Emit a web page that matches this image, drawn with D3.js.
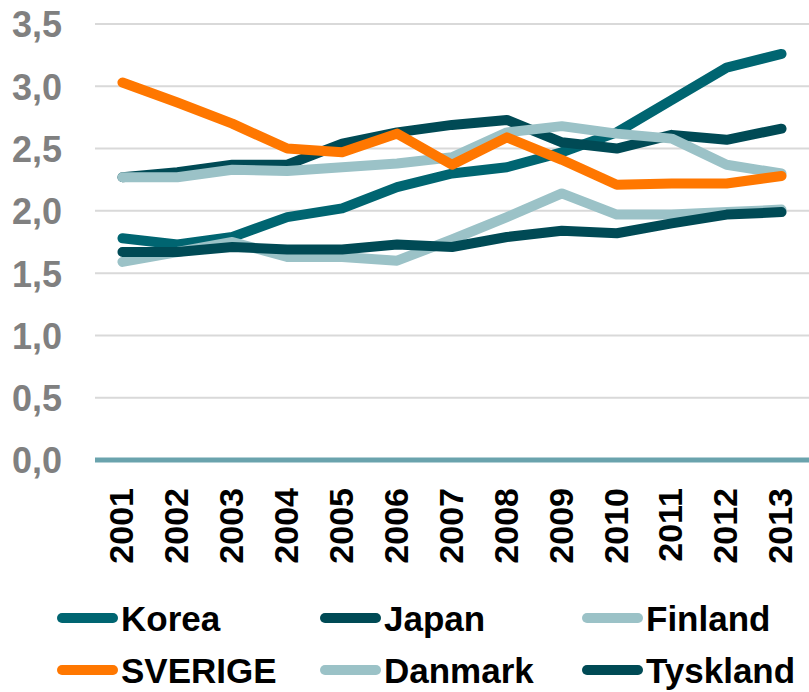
<!DOCTYPE html>
<html><head><meta charset="utf-8">
<script src="https://cdn.jsdelivr.net/npm/d3@7"></script>
<style>
html,body{margin:0;padding:0;background:#fff;}
svg{display:block;}
</style></head>
<body>
<svg id="chart" width="809" height="692"></svg>
<script>
const years = ["2001","2002","2003","2004","2005","2006","2007","2008","2009","2010","2011","2012","2013"];
const yTicks = [0,0.5,1.0,1.5,2.0,2.5,3.0,3.5];
const korea   = [1.78,1.73,1.79,1.95,2.02,2.19,2.30,2.35,2.47,2.63,2.89,3.15,3.26];
const japan   = [2.27,2.31,2.37,2.37,2.54,2.63,2.69,2.73,2.55,2.50,2.61,2.57,2.66];
const finland = [2.27,2.27,2.33,2.32,2.35,2.38,2.43,2.63,2.68,2.62,2.58,2.37,2.30];
const sverige = [3.03,2.87,2.70,2.50,2.47,2.62,2.37,2.59,2.41,2.21,2.22,2.22,2.28];
const danmark = [1.59,1.67,1.75,1.63,1.63,1.60,1.77,1.95,2.14,1.97,1.97,1.99,2.01];
const tyskland= [1.67,1.67,1.71,1.69,1.69,1.73,1.71,1.79,1.84,1.82,1.90,1.97,1.99];
const seriesNames = ["Korea","Japan","Finland","SVERIGE","Danmark","Tyskland"];
const seriesColors = ["#006571","#004a55","#9bc2c7","#ff7700","#9bc2c7","#004a55"];
const seriesValues = [korea,japan,finland,sverige,danmark,tyskland];

const svg = d3.select("#chart");
const x = d3.scalePoint().domain(years).range([95,809]).padding(0.5);
const y = d3.scaleLinear().domain([0,3.5]).range([460,24]);
const font = "Liberation Sans, Arial, sans-serif";

// gridlines
svg.append("g").selectAll("line").data(yTicks.filter(d=>d>0)).join("line")
  .attr("x1",95).attr("x2",809).attr("y1",d=>y(d)).attr("y2",d=>y(d))
  .attr("stroke","#d9d9d9").attr("stroke-width",2);

// y axis labels
const yAxis = d3.axisLeft(y).tickValues(yTicks).tickSize(0).tickPadding(0)
  .tickFormat(d=>d3.format(".1f")(d).replace(".",","));
const yg = svg.append("g").attr("transform","translate(62,0)").call(yAxis);
yg.select(".domain").remove();
yg.selectAll("text").attr("fill","#808080").style("font-family",font)
  .style("font-weight","bold").style("font-size","36px").attr("dy","0.36em");

// lines
const line = d3.line().x((d,i)=>x(years[i])).y(d=>y(d));
svg.append("g").selectAll("path").data(seriesValues).join("path")
  .attr("d",d=>line(d)).attr("fill","none")
  .attr("stroke",(d,i)=>seriesColors[i]).attr("stroke-width",10)
  .attr("stroke-linecap","round").attr("stroke-linejoin","round");

// x axis
const xAxis = d3.axisBottom(x).tickSize(0).tickPadding(0);
const xg = svg.append("g").attr("transform","translate(0,460)").call(xAxis);
xg.select(".domain").remove();
xg.selectAll("text").attr("fill","#000").style("font-family",font)
  .style("font-weight","bold").style("font-size","34px")
  .attr("transform","rotate(-90)").attr("text-anchor","end").attr("x",-28).attr("y",-2).attr("dy","0.36em");
svg.append("line").attr("x1",95).attr("x2",809).attr("y1",y(0)).attr("y2",y(0))
  .attr("stroke","#6aa3ad").attr("stroke-width",5);

// legend
const leg = svg.append("g");
const colX = [57,320,582];
const rowY = [618,670];
seriesNames.forEach((n,i)=>{
  const cx = colX[i%3], cy = rowY[Math.floor(i/3)];
  leg.append("line").attr("x1",cx+5).attr("x2",cx+56).attr("y1",cy).attr("y2",cy)
    .attr("stroke",seriesColors[i]).attr("stroke-width",10).attr("stroke-linecap","round");
  leg.append("text").attr("x",cx+64).attr("y",cy).attr("dy","0.36em")
    .style("font-family",font).style("font-weight","bold")
    .style("font-size","35px").attr("fill","#000").text(n);
});
</script>
</body></html>
